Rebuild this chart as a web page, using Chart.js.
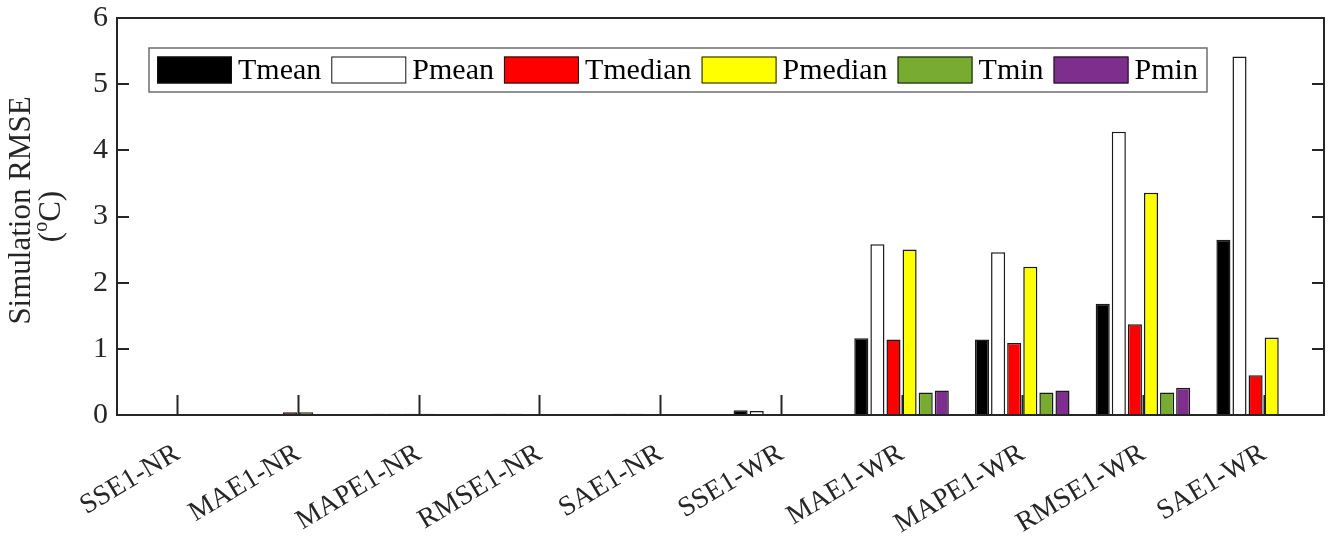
<!DOCTYPE html>
<html>
<head>
<meta charset="utf-8">
<script src="https://cdn.jsdelivr.net/npm/chart.js@4/dist/chart.umd.min.js"></script>
<style>
  html, body { margin: 0; padding: 0; background: #fff; }
  canvas { display: block; }
</style>
</head>
<body>
<canvas id="rmse" width="1330" height="536"></canvas>
<script>
const categories = ['SSE1-NR', 'MAE1-NR', 'MAPE1-NR', 'RMSE1-NR', 'SAE1-NR',
                    'SSE1-WR', 'MAE1-WR', 'MAPE1-WR', 'RMSE1-WR', 'SAE1-WR'];

const tmean   = [0.005, 0.01, 0.02, 0.02, 0.02, 0.07, 1.16, 1.14, 1.68, 2.65];
const pmean   = [0.005, 0.01, 0.02, 0.02, 0.02, 0.06, 2.58, 2.46, 4.28, 5.42];
const tmedian = [0, 0.04, 0.02, 0, 0, 0, 1.14, 1.09, 1.37, 0.60];
const pmedian = [0, 0.04, 0.02, 0, 0, 0, 2.50, 2.24, 3.36, 1.17];
const tmin    = [0, 0.01, 0.005, 0, 0, 0, 0.34, 0.34, 0.34, 0];
const pmin    = [0, 0.01, 0.005, 0, 0, 0, 0.37, 0.37, 0.41, 0];

const yTicks = [0, 1, 2, 3, 4, 5, 6];

const FONT = "'Liberation Serif', 'Times New Roman', serif";
const INK = '#262626';

function serie(label, data, color) {
    return {
        label: label,
        data: data,
        backgroundColor: color,
        borderColor: '#1a1a1a',
        borderWidth: 1.5,
        borderSkipped: 'start',
        categoryPercentage: 0.8,
        barPercentage: 0.875,
    };
}

// inward ticks (bottom, left, right) + box around the plot
const marco = {
    id: 'marco',
    beforeDatasetsDraw(chart) {
        const {ctx, chartArea: a, scales: {x, y}} = chart;
        ctx.save();
        ctx.strokeStyle = INK;
        ctx.lineWidth = 2;
        ctx.beginPath();
        x.ticks.forEach((t, i) => {
            const px = Math.round(x.getPixelForTick(i)) + 0.5;
            ctx.moveTo(px, a.bottom);
            ctx.lineTo(px, a.bottom - 20);
        });
        yTicks.forEach(v => {
            const py = Math.round(y.getPixelForValue(v));
            ctx.moveTo(a.left, py);
            ctx.lineTo(a.left + 12, py);
            ctx.moveTo(a.right, py);
            ctx.lineTo(a.right - 12, py);
        });
        ctx.stroke();
        ctx.restore();
    },
    afterDatasetsDraw(chart) {
        const {ctx, chartArea: a} = chart;
        ctx.save();
        ctx.strokeStyle = INK;
        ctx.lineWidth = 2;
        ctx.strokeRect(a.left, a.top, a.right - a.left, a.bottom - a.top);
        ctx.restore();
    }
};

// legend box inside the plot
const leyenda = {
    id: 'leyenda',
    afterDraw(chart) {
        const ctx = chart.ctx;
        const x0 = 149, y0 = 48, h = 44, x1 = 1207;
        const sw = 75, sh = 27;
        ctx.save();
        ctx.font = '30px ' + FONT;
        ctx.textBaseline = 'middle';
        let x = x0 + 8;
        const items = chart.data.datasets.map(ds => {
            const w = ctx.measureText(ds.label).width;
            const it = {ds, x};
            x += sw + 6 + w + 10;
            return it;
        });
        ctx.fillStyle = '#fff';
        ctx.fillRect(x0, y0, x1 - x0, h);
        ctx.strokeStyle = '#6e6e6e';
        ctx.lineWidth = 1.5;
        ctx.strokeRect(x0, y0, x1 - x0, h);
        items.forEach(it => {
            const sy = y0 + (h - sh) / 2;
            ctx.fillStyle = it.ds.backgroundColor;
            ctx.fillRect(it.x, sy, sw, sh);
            ctx.strokeStyle = '#111';
            ctx.lineWidth = 1;
            ctx.strokeRect(it.x + 0.5, sy + 0.5, sw - 1, sh - 1);
            ctx.fillStyle = '#000';
            ctx.fillText(it.ds.label, it.x + sw + 6, y0 + h / 2 + 1);
        });
        ctx.restore();
    }
};

// y axis title, second line with a superscript
const tituloY = {
    id: 'tituloY',
    afterDraw(chart) {
        const ctx = chart.ctx;
        const a = chart.chartArea;
        const cy = (a.top + a.bottom) / 2;
        ctx.save();
        ctx.fillStyle = INK;
        ctx.textAlign = 'center';
        ctx.textBaseline = 'middle';
        ctx.translate(22, cy - 6);
        ctx.rotate(-Math.PI / 2);
        ctx.font = '31px ' + FONT;
        ctx.fillText('Simulation RMSE', 0, 0);
        ctx.restore();

        ctx.save();
        ctx.fillStyle = INK;
        ctx.textBaseline = 'middle';
        ctx.translate(52, cy);
        ctx.rotate(-Math.PI / 2);
        const p1 = '(', sup = 'o', p2 = 'C)';
        ctx.font = '31px ' + FONT;
        const w1 = ctx.measureText(p1).width;
        const w3 = ctx.measureText(p2).width;
        ctx.font = '20px ' + FONT;
        const w2 = ctx.measureText(sup).width;
        let x = -(w1 + w2 + w3) / 2;
        ctx.font = '31px ' + FONT;
        ctx.fillText(p1, x, 0);
        x += w1;
        ctx.font = '20px ' + FONT;
        ctx.fillText(sup, x, -10);
        x += w2;
        ctx.font = '31px ' + FONT;
        ctx.fillText(p2, x, 0);
        ctx.restore();
    }
};

const grafico = new Chart(document.getElementById('rmse'), {
    type: 'bar',
    data: {
        labels: categories,
        datasets: [
            serie('Tmean', tmean, '#000000'),
            serie('Pmean', pmean, '#ffffff'),
            serie('Tmedian', tmedian, '#ff0000'),
            serie('Pmedian', pmedian, '#ffff00'),
            serie('Tmin', tmin, '#77ac30'),
            serie('Pmin', pmin, '#7e2f8e'),
        ]
    },
    options: {
        responsive: false,
        animation: false,
        layout: { padding: { top: 18, right: 6, left: 0, bottom: 0 } },
        plugins: {
            legend: { display: false },
            tooltip: { enabled: false },
        },
        scales: {
            x: {
                grid: { display: false, drawTicks: false },
                border: { display: false },
                ticks: {
                    color: INK,
                    font: { family: FONT, size: 28 },
                    minRotation: 31,
                    maxRotation: 31,
                    padding: 22,
                },
                afterFit(scale) {
                    scale.height = 121;
                    scale.paddingLeft = 0;
                    scale.paddingRight = 0;
                },
            },
            y: {
                min: 0,
                max: 6,
                grid: { display: false, drawTicks: false },
                border: { display: false },
                ticks: {
                    stepSize: 1,
                    color: INK,
                    font: { family: FONT, size: 30 },
                    padding: 9,
                },
                afterFit(scale) {
                    scale.width = 117;
                    scale.paddingTop = 0;
                    scale.paddingBottom = 0;
                },
            }
        }
    },
    plugins: [marco, leyenda, tituloY]
});
</script>
</body>
</html>
